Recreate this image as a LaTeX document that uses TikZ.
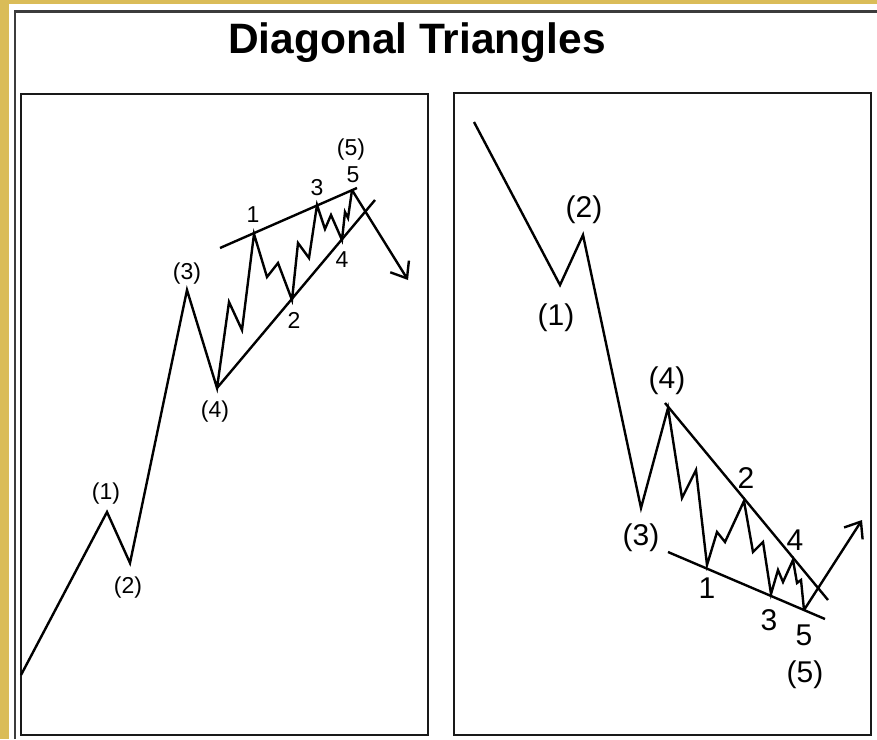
\documentclass[tikz,border=0pt]{standalone}
\usepackage{fontspec}
\setmainfont{Liberation Sans}
\usetikzlibrary{arrows.meta}
\definecolor{gold}{RGB}{218,188,88}
\definecolor{framegray}{RGB}{60,60,60}
\begin{document}
\begin{tikzpicture}[x=1pt,y=-1pt,
  wave/.style={line width=2.4pt, line join=miter, black},
  trend/.style={line width=2.4pt, black},
  panel/.style={draw=black!90, line width=2.2pt},
  lblS/.style={font=\fontsize{23}{23}\selectfont, inner sep=0pt},
  lblL/.style={font=\fontsize{30}{30}\selectfont, inner sep=0pt},
  tip/.style={-{Straight Barb[length=14pt,width=22pt]}}
]
\useasboundingbox (0,0) rectangle (877,739);
\fill[gold] (0,0) rectangle (877,739);
\fill[white] (9,4) rectangle (877,739);
\draw[framegray, line width=2.5pt] (15,739) -- (15,11.5) -- (877,11.5);
\node[font=\bfseries\fontsize{42.5}{42.5}\selectfont, inner sep=0pt] (title) at (417,43) {Diagonal Triangles};
\draw[panel] (21,94) rectangle (428,735);
\draw[panel] (454,93) rectangle (871,735);

% ---------- left panel ----------
\coordinate (L0) at (21,675);
\coordinate (L1) at (107,512);
\coordinate (L2) at (130,563);
\coordinate (L3) at (187,290);
\coordinate (L4) at (217,388);
\coordinate (s1) at (254,234);
\coordinate (s2) at (292,300);
\coordinate (s3) at (317,205);
\coordinate (s4) at (342,240);
\coordinate (s5) at (352,190);
\coordinate (aL) at (408,280);
\coordinate (uL1) at (220,248);
\coordinate (uL2) at (357,188);
\coordinate (lL2) at (375,200);

\draw[wave] (L0) -- (L1) -- (L2) -- (L3) -- (L4)
  -- (229,302) -- (242,330) -- (s1)
  -- (267,277) -- (278,263) -- (s2)
  -- (298,243) -- (309,258) -- (s3)
  -- (325,229) -- (331,215) -- (s4)
  -- (345,212) -- (348,218) -- (s5);
\draw[trend] (uL1) -- (uL2);
\draw[trend] (L4) -- (lL2);
\draw[wave, tip] (s5) -- (aL);

\node[lblS] (pl1) at (106,494) {(1)};
\node[lblS] (pl2) at (128,588) {(2)};
\node[lblS] (pl3) at (187,274) {(3)};
\node[lblS] (pl4) at (215,412) {(4)};
\node[lblS] (pl5) at (351,150) {(5)};
\node[lblS] (nl1) at (253,215) {1};
\node[lblS] (nl2) at (294,320) {2};
\node[lblS] (nl3) at (317,188) {3};
\node[lblS] (nl4) at (342,260) {4};
\node[lblS] (nl5) at (353,175) {5};

% ---------- right panel ----------
\coordinate (R0) at (474,122);
\coordinate (R1) at (560,285);
\coordinate (R2) at (583,235);
\coordinate (R3) at (641,508);
\coordinate (R4) at (668,408);
\coordinate (t1) at (707,565);
\coordinate (t2) at (744,501);
\coordinate (t3) at (771,594);
\coordinate (t4) at (793,560);
\coordinate (t5) at (804,610);
\coordinate (aR) at (862,520);
\coordinate (uR1) at (665,403);
\coordinate (uR2) at (828,600);
\coordinate (lR1) at (668,552);
\coordinate (lR2) at (825,619);

\draw[wave] (R0) -- (R1) -- (R2) -- (R3) -- (R4)
  -- (682,498) -- (696,470) -- (t1)
  -- (717,532) -- (725,542) -- (t2)
  -- (753,552) -- (763,542) -- (t3)
  -- (778,570) -- (783,582) -- (t4)
  -- (797,583) -- (801,580) -- (t5);
\draw[trend] (uR1) -- (uR2);
\draw[trend] (lR1) -- (lR2);
\draw[wave, tip] (t5) -- (aR);

\node[lblL] (pr1) at (556,318) {(1)};
\node[lblL] (pr2) at (584,210) {(2)};
\node[lblL] (pr3) at (641,538) {(3)};
\node[lblL] (pr4) at (667,381) {(4)};
\node[lblL] (pr5) at (805,675) {(5)};
\node[lblL] (nr1) at (707,588) {1};
\node[lblL] (nr2) at (746,478) {2};
\node[lblL] (nr3) at (769,620) {3};
\node[lblL] (nr4) at (795,540) {4};
\node[lblL] (nr5) at (804,635) {5};
\end{tikzpicture}
\end{document}
